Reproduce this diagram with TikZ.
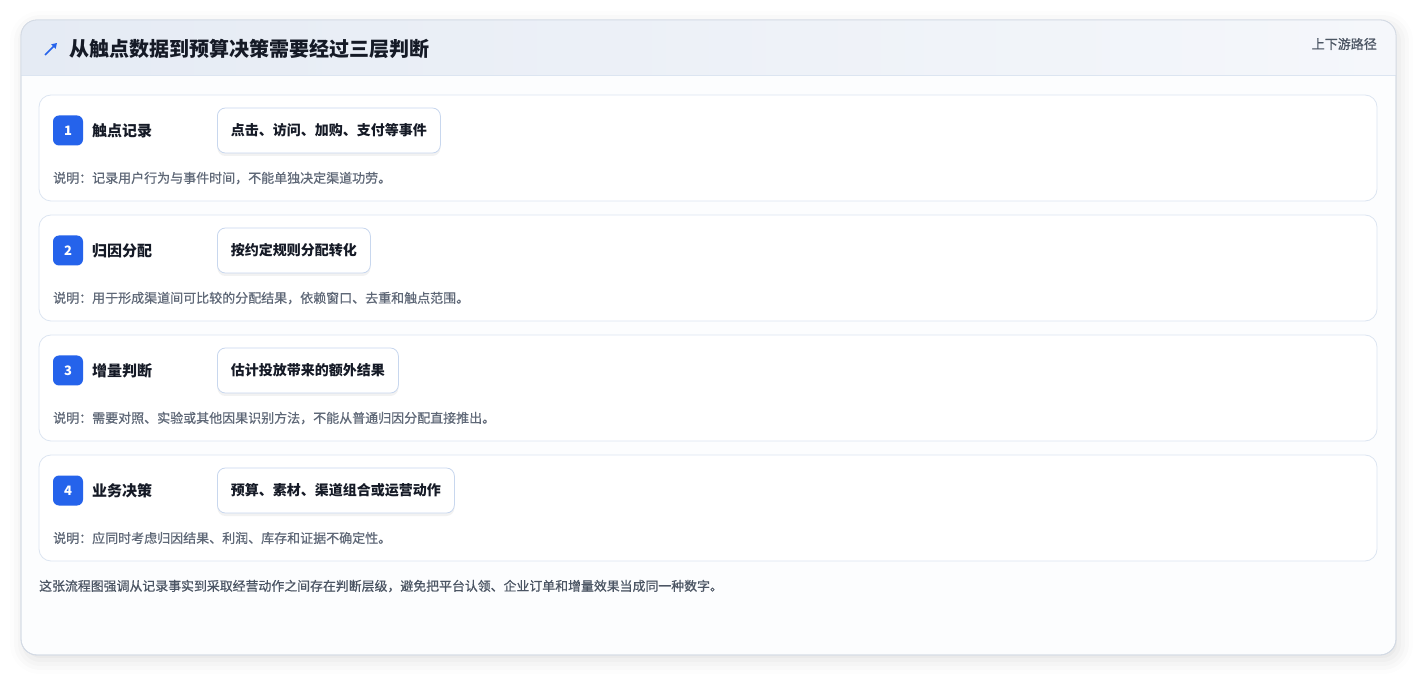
\documentclass[tikz,border=0pt]{standalone}
\usepackage{fontspec}
\setmainfont{Noto Sans CJK SC}
\newfontfamily\mediumcjk{Noto Sans CJK SC}[FakeBold=0.7]
\usepackage{xcolor}
\usetikzlibrary{arrows.meta,shadows,shadows.blur}

\definecolor{accent}{HTML}{2563EB}
\definecolor{inkdark}{HTML}{151A26}
\definecolor{inkgrey}{HTML}{5F6877}
\definecolor{inkfoot}{HTML}{4B5563}
\definecolor{cardline}{HTML}{D3DAE4}
\definecolor{rowline}{HTML}{DCE5F1}
\definecolor{tagline}{HTML}{C8D7EE}
\definecolor{headleft}{HTML}{E5EBF4}
\definecolor{headright}{HTML}{F5F7FB}
\definecolor{bodyfill}{HTML}{FCFDFE}

\tikzset{
    card/.style={draw=cardline, line width=0.8pt, fill=bodyfill, rounded corners=16pt},
    rowcard/.style={draw=rowline, line width=0.8pt, fill=white, rounded corners=12pt},
    badge/.style={fill=accent, rounded corners=6pt, minimum size=30pt, inner sep=0pt,
        text=white, font=\bfseries\fontsize{13}{13}\selectfont},
    steplabel/.style={anchor=west, inner sep=0pt, text=inkdark, font=\bfseries\fontsize{15}{15}\selectfont},
    tagbox/.style={anchor=west, draw=tagline, line width=0.8pt, fill=white, rounded corners=8pt,
        minimum height=45pt, inner xsep=13.5pt, text=inkdark, font=\bfseries\fontsize{14}{14}\selectfont,
        drop shadow={shadow xshift=0pt, shadow yshift=-3pt, fill=black, opacity=0.05}},
    desctext/.style={anchor=west, inner sep=0pt, text=inkgrey, font=\mediumcjk\fontsize{13}{13}\selectfont},
}

\begin{document}
\begin{tikzpicture}[x=1pt,y=-1pt]
    \useasboundingbox (0,0) rectangle (1417,676);

    % Outer card with header band
    \path[card, blur shadow={shadow xshift=3pt, shadow yshift=-5pt, shadow blur radius=14pt, shadow opacity=12}]
        (21,20) rectangle (1396,655);
    \begin{scope}
        \clip[rounded corners=16pt] (21,20) rectangle (1396,655);
        \shade[left color=headleft, right color=headright] (21,20) rectangle (1396,75);
    \end{scope}
    \draw[rowline, line width=0.8pt] (21,75) -- (1396,75);
    \draw[card, fill=none] (21,20) rectangle (1396,655);

    % Header icon, title and tag
    \coordinate (iconfrom) at (45,55);
    \coordinate (iconto) at (57,43);
    \draw[accent, line width=1.7pt, -{Triangle[length=5pt,width=6pt]}] (iconfrom) -- (iconto);
    \node[anchor=west, inner sep=0pt, text=inkdark, font=\bfseries\fontsize{20}{20}\selectfont]
        (title) at (69,49) {从触点数据到预算决策需要经过三层判断};
    \node[anchor=east, inner sep=0pt, text=inkfoot, font=\mediumcjk\fontsize{13}{13}\selectfont]
        (route) at (1377,44) {上下游路径};

    % One row per judgement step
    \foreach \i/\y/\name/\tag/\desc in {
        1/95/触点记录/点击、访问、加购、支付等事件/说明：记录用户行为与事件时间，不能单独决定渠道功劳。,
        2/215/归因分配/按约定规则分配转化/说明：用于形成渠道间可比较的分配结果，依赖窗口、去重和触点范围。,
        3/335/增量判断/估计投放带来的额外结果/说明：需要对照、实验或其他因果识别方法，不能从普通归因分配直接推出。,
        4/455/业务决策/预算、素材、渠道组合或运营动作/说明：应同时考虑归因结果、利润、库存和证据不确定性。} {
        % Row background
        \draw[rowcard] (39,\y) rectangle (1377,\y+106);
        % Number badge and step name
        \node[badge] (badge\i) at (68,\y+35.5) {\i};
        \node[steplabel] (lbl\i) at (92,\y+36) {\name};
        % Example box
        \node[tagbox] (tag\i) at (217,\y+35.5) {\tag};
        % Explanation below
        \node[desctext] (desc\i) at (53,\y+83) {\desc};
    }

    % Closing remark
    \node[anchor=west, inner sep=0pt, text=inkfoot, font=\mediumcjk\fontsize{12.9}{12.9}\selectfont]
        (footnote) at (39,586) {这张流程图强调从记录事实到采取经营动作之间存在判断层级，避免把平台认领、企业订单和增量效果当成同一种数字。};
\end{tikzpicture}
\end{document}
